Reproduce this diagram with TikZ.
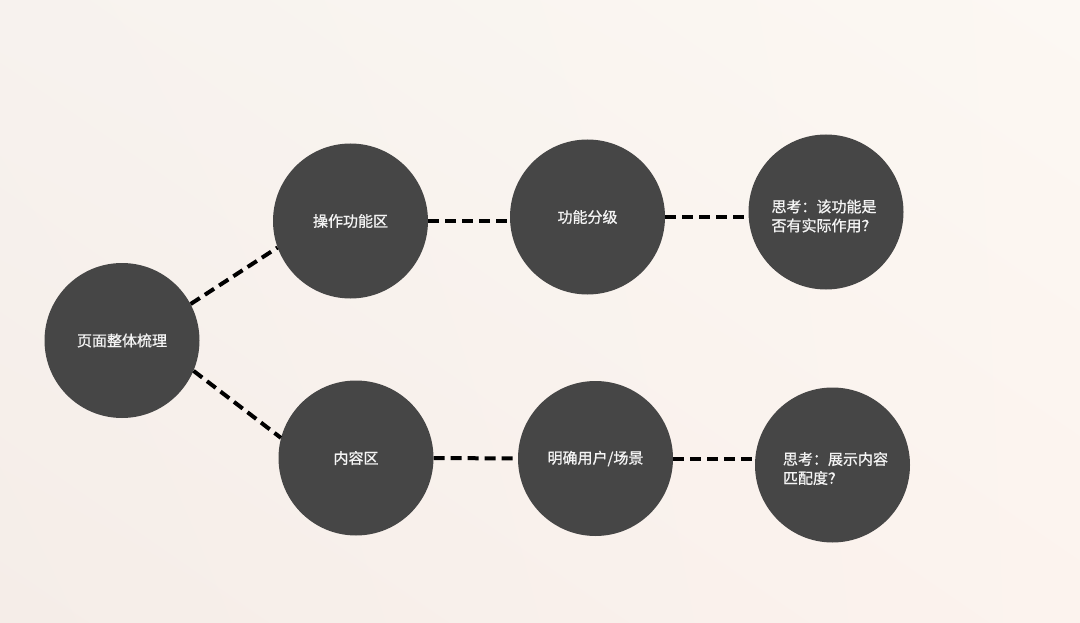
\documentclass[tikz,border=0pt]{standalone}
\usepackage{fontspec}
\usetikzlibrary{shadings}
\newfontfamily\cjk[FakeBold=0.9]{Noto Sans CJK SC}
\definecolor{bgtl}{HTML}{F7F2EE}
\definecolor{bgtr}{HTML}{FCF8F3}
\definecolor{bgbl}{HTML}{F5EDE8}
\definecolor{bgbr}{HTML}{FCF3EE}
\definecolor{disc}{HTML}{464646}
\definecolor{txt}{HTML}{F4F4F4}
\tikzset{
  btext/.style={text=txt, font=\cjk\fontsize{15}{19}\selectfont, align=left, inner sep=0pt},
  bubble/.style={circle, fill=disc, minimum size=155pt, inner sep=0pt, btext},
  conn/.style={draw=black, line width=4pt, dash pattern=on 11pt off 6pt}
}
\begin{document}
\begin{tikzpicture}[x=1pt,y=-1pt]
\shade[upper left=bgtl, upper right=bgtr, lower left=bgbl, lower right=bgbr] (0,0) rectangle (1080,623);
\useasboundingbox (0,0) rectangle (1080,623);
\node[bubble] (root) at (122,340.5) {页面整体梳理};
\node[bubble] (ops) at (350.5,221) {操作功能区};
\node[bubble] (grade) at (587.5,217) {功能分级};
\node[bubble, label={[btext, xshift=-2pt, yshift=-4pt]center:{思考：该功能是\\否有实际作用？}}] (q1) at (826,212) {};
\node[bubble] (content) at (356,458) {内容区};
\node[bubble] (user) at (595.5,458.5) {明确用户/场景};
\node[bubble, label={[btext, xshift=3pt, yshift=-3.5pt]center:{思考：展示内容\\匹配度？}}] (q2) at (832.5,465) {};
\draw[conn] (root.28) -- (ops.200);
\draw[conn] (root.-23) -- (content.165);
\draw[conn] (ops.east) -- (ops.east -| grade.west);
\draw[conn] (grade.east) -- (grade.east -| q1.west);
\draw[conn] (content.east) -- (user.west);
\draw[conn] (user.east) -- (user.east -| q2.west);
\end{tikzpicture}
\end{document}
